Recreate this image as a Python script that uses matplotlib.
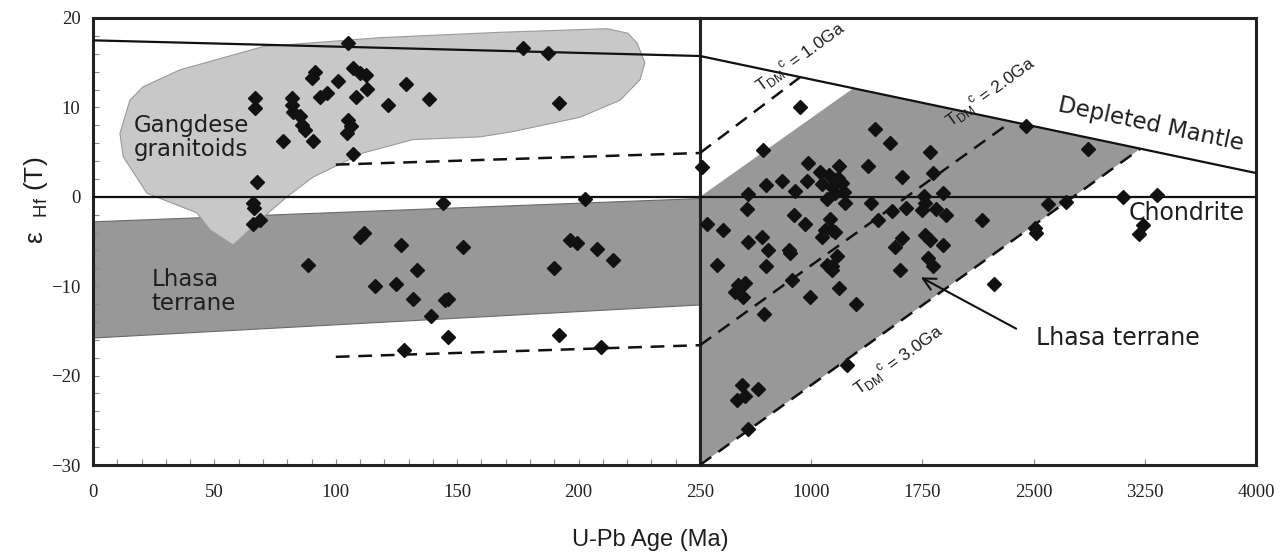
import numpy as np
import matplotlib
matplotlib.use("Agg")
import matplotlib.pyplot as plt

# --- data ---------------------------------------------------------------
# left panel (0-250 Ma)
left_age = [105.1, 91.4, 90.1, 107.2, 110.0, 112.3, 101.0, 128.9, 113.0, 96.3,
            93.5, 108.3, 138.5, 121.6, 66.7, 66.7, 81.8, 81.8, 82.5, 85.3,
            86.0, 87.3, 78.1, 90.7, 105.1, 106.1, 104.5, 107.0, 67.4, 66.0,
            66.3, 66.0, 68.8, 144.0, 111.6, 110.0, 126.7, 152.5, 88.4, 116.1,
            124.8, 133.3, 131.9, 145.0, 146.3, 139.1, 146.3, 128.1, 177.0, 187.5,
            192.1, 202.6, 196.5, 199.5, 207.5, 214.3, 189.9, 191.9, 209.1]
left_eps = [17.2, 14.0, 13.3, 14.4, 13.8, 13.6, 12.9, 12.6, 12.1, 11.6,
            11.2, 11.2, 10.9, 10.3, 11.1, 9.9, 11.1, 10.3, 9.5, 9.0,
            8.0, 7.5, 6.2, 6.2, 8.6, 7.9, 7.1, 4.8, 1.7, -0.7,
            -1.3, -3.0, -2.6, -0.7, -4.0, -4.5, -5.4, -5.6, -7.6, -10.0,
            -9.8, -8.2, -11.4, -11.5, -11.4, -13.3, -15.7, -17.1, 16.6, 16.1,
            10.5, -0.3, -4.8, -5.2, -5.8, -7.1, -8.0, -15.5, -16.8]

# right panel (250-4000 Ma)
right_age = [926, 678, 262, 976, 804, 696, 970, 576, 566, 892,
             1061, 1122, 1185, 1183, 1074, 1142, 1210, 1218, 1162, 1106,
             1230, 1383, 1433, 1529, 1799, 1613, 1821, 1890, 1759, 1770,
             1748, 1402, 1545, 1639, 1845, 1906, 1453, 2154, 1613, 1562,
             1770, 1804, 1890, 1786, 1824, 1596, 2232, 1305, 295, 407,
             887, 960, 1128, 1095, 1140, 1072, 1158, 576, 667, 707,
             847, 858, 363, 696, 1174, 1106, 1140, 1140, 870, 1186,
             509, 554, 487, 543, 509, 993, 685, 1241, 532, 640,
             498, 554, 576, 2446, 2867, 3106, 3333, 2598, 2716, 2509,
             2514, 3241, 3214]
right_eps = [10.0, 5.2, 3.3, 3.8, 1.8, 1.3, 1.8, 0.3, -1.4, 0.6,
             2.8, 2.4, 3.4, 2.1, 1.4, 1.1, 1.5, 0.5, 0.4, -0.3,
             -0.7, 3.5, 7.6, 6.0, 5.0, 2.2, 2.7, 0.4, 0.1, -0.7,
             -1.5, -0.7, -1.6, -1.2, -1.4, -2.0, -2.6, -2.6, -4.6, -5.6,
             -4.3, -4.8, -5.4, -6.9, -7.7, -8.2, -9.8, -12.0, -3.0, -3.7,
             -2.0, -3.0, -2.5, -3.7, -3.7, -4.5, -3.9, -5.1, -4.5, -5.9,
             -6.0, -6.3, -7.6, -7.7, -6.6, -7.6, -8.2, -7.7, -9.3, -10.2,
             -9.9, -9.6, -10.6, -11.2, -10.4, -11.2, -13.1, -18.8, -21.1, -21.5,
             -22.7, -22.3, -26.0, 7.9, 5.4, 0.0, 0.2, -0.8, -0.6, -3.5,
             -4.0, -3.2, -4.2]

# reference lines
dm_age = [0, 250, 4000]
dm_eps = [17.5, 15.75, 2.66]
tdm1_left_age, tdm1_left_eps = [100, 250], [3.6, 4.9]
tdm3_left_age, tdm3_left_eps = [100, 250], [-17.9, -16.6]
tdm1_age, tdm1_eps = [250, 926], [4.9, 13.39]
tdm2_age, tdm2_eps = [250, 2351], [-16.6, 8.42]
tdm3_age, tdm3_eps = [250, 3220], [-30.0, 5.38]

# fields
gangdese_age = [11.1, 15.2, 20.6, 35.8, 70.0, 118.2, 167.6, 211.7, 220.3, 224.1,
                227.3, 225.3, 217.1, 200.6, 173.0, 159.4, 131.8, 111.2, 90.6, 79.9,
                68.8, 57.7, 48.2, 42.8, 22.2, 12.4]
gangdese_eps = [7.1, 10.8, 12.3, 14.2, 16.8, 17.8, 18.4, 18.8, 18.3, 17.2,
                15.0, 13.1, 10.8, 8.9, 7.3, 6.7, 6.4, 4.9, 2.2, 0.0,
                -2.6, -5.4, -3.7, -1.8, 0.4, 4.5]
lhasa_left_age = [0, 250, 250, 0]
lhasa_left_eps = [-2.8, -0.2, -12.1, -15.8]
lhasa_right_age = [250, 1284, 1600, 2000, 2500, 3000, 3220, 250]
lhasa_right_eps = [0.0, 12.14, 11.04, 9.64, 7.89, 6.15, 5.38, -30.0]

# --- figure --------------------------------------------------------------
W, H = 1280, 557
fig = plt.figure(figsize=(W / 100, H / 100), dpi=100)
ax1 = fig.add_axes([93 / W, 92 / H, 607 / W, 447 / H])
ax2 = fig.add_axes([700 / W, 92 / H, 556 / W, 447 / H])

dark = '#111111'
txt = '#1e1e1e'
field_dark = '#989898'
field_light = '#c8c8c8'
sans = 'Liberation Sans'
wide = 'DejaVu Sans'
serif = 'Liberation Serif'
dash = (0, (5.5, 3.5))

for ax in (ax1, ax2):
    ax.set_ylim(-30, 20)
    for s in ax.spines.values():
        s.set_linewidth(2.2)
        s.set_color('#222222')

ax1.set_xlim(0, 250)
ax2.set_xlim(250, 4000)

# left panel
ax1.fill(lhasa_left_age, lhasa_left_eps, facecolor=field_dark, edgecolor='#6a6a6a', lw=0.8, zorder=1)
ax1.fill(gangdese_age, gangdese_eps, facecolor=field_light, edgecolor='#9a9a9a', lw=0.8, zorder=2)
ax1.axhline(0, color=dark, lw=1.6, zorder=3)
ax1.plot(dm_age[:2], dm_eps[:2], color=dark, lw=1.6, zorder=3)
ax1.plot(tdm1_left_age, tdm1_left_eps, color=dark, lw=1.8, ls=dash, zorder=3)
ax1.plot(tdm3_left_age, tdm3_left_eps, color=dark, lw=1.8, ls=dash, zorder=3)
ax1.plot(left_age, left_eps, 'D', color=dark, ms=7, ls='none', zorder=5, clip_on=False)

ax1.text(16.9, 6.6, 'Gangdese\ngranitoids', fontsize=16.5, family=wide, color=txt,
         ha='left', va='center', linespacing=1.05)
ax1.text(24.2, -10.6, 'Lhasa\nterrane', fontsize=16.5, family=wide, color=txt,
         ha='left', va='center', linespacing=1.1)

# right panel
ax2.fill(lhasa_right_age, lhasa_right_eps, facecolor=field_dark, edgecolor='none', zorder=1)
ax2.axhline(0, color=dark, lw=1.6, zorder=3)
ax2.plot(dm_age[1:], dm_eps[1:], color=dark, lw=1.6, zorder=3)
ax2.plot(tdm1_age, tdm1_eps, color=dark, lw=1.8, ls=dash, zorder=3)
ax2.plot(tdm2_age, tdm2_eps, color=dark, lw=1.8, ls=dash, zorder=3)
ax2.plot(tdm3_age, tdm3_eps, color=dark, lw=1.8, ls=dash, zorder=3)
ax2.plot(right_age, right_eps, 'D', color=dark, ms=7, ls='none', zorder=5, clip_on=False)

ax2.text(3290, 8.1, 'Depleted Mantle', fontsize=16.5, family=wide, color=txt,
         rotation=-12, rotation_mode='anchor', ha='center', va='center')
ax2.text(3142, -1.8, 'Chondrite', fontsize=17, family=wide, color=txt,
         ha='left', va='center')
ax2.text(2514, -15.8, 'Lhasa terrane', fontsize=17, family=wide, color=txt,
         ha='left', va='center')
ax2.annotate('', xy=(1723, -8.86), xytext=(2399, -14.9),
             arrowprops=dict(arrowstyle='->', color=dark, lw=1.5, mutation_scale=22), zorder=6)

tdm_labels = [(926, 15.6, '1.0'), (2210, 11.7, '2.0'), (1588, -18.3, '3.0')]
for xa, ya, g in tdm_labels:
    ax2.text(xa, ya, r'T$_{\mathregular{DM}}$$^{\mathregular{c}}$ = ' + g + 'Ga', fontsize=12.5,
             family=sans, color=txt, rotation=36, rotation_mode='anchor',
             ha='center', va='center')

# ticks
ax1.set_xticks([0, 50, 100, 150, 200, 250])
ax1.set_xticks(np.arange(0, 251, 10), minor=True)
ax1.set_yticks([-30, -20, -10, 0, 10, 20])
ax1.set_yticks(np.arange(-30, 21, 2), minor=True)
ax1.tick_params(which='both', direction='in', length=4, width=0.8, color='#888888')
ax1.tick_params(axis='x', pad=14)
ax1.tick_params(axis='y', pad=9)

ax2.set_yticks([])
ax2.set_xticks([1000, 1750, 2500, 3250, 4000])
ax2.tick_params(direction='in', length=4, width=0.8, color='#888888', pad=14)

for ax in (ax1, ax2):
    for lab in ax.get_xticklabels() + ax.get_yticklabels():
        lab.set_fontfamily(serif)
        lab.set_fontsize(13.5)
        lab.set_color('#222222')

fig.text(650 / W, 1 - 540 / H, 'U-Pb Age (Ma)', fontsize=17, family=sans,
         color=txt, ha='center', va='center')
fig.text(36 / W, 1 - 200 / H, r'ε  $_{\mathregular{Hf}}$ (T)', fontsize=19, family=sans,
         color=txt, ha='center', va='center', rotation=90)

fig.savefig('out.png', dpi=100)
